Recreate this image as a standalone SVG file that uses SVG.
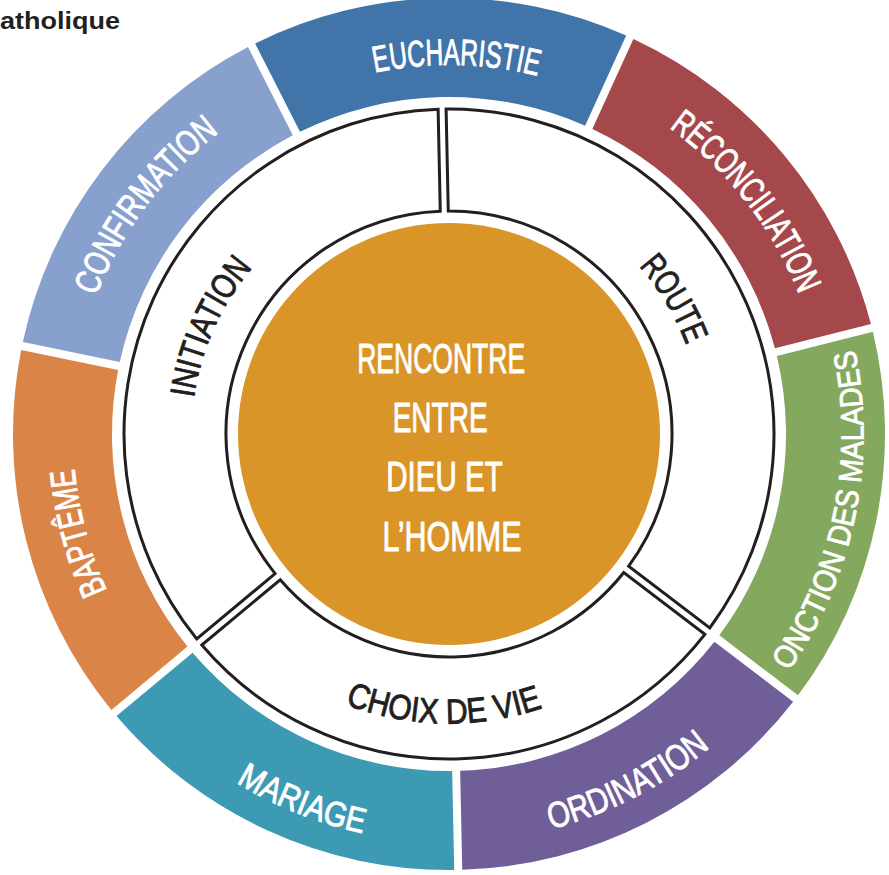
<svg xmlns="http://www.w3.org/2000/svg" width="889" height="875" viewBox="0 0 889 875">
<style>
.lbl{font-family:"Liberation Sans",Arial,sans-serif;fill:#ffffff;stroke:#ffffff;stroke-width:0.9;stroke-linejoin:round;text-anchor:middle;}
.dark{font-family:"Liberation Sans",Arial,sans-serif;fill:#231f20;stroke:#231f20;stroke-width:0.9;stroke-linejoin:round;text-anchor:middle;}
.ring{fill:#ffffff;stroke:#231f20;stroke-width:3;stroke-linejoin:miter;}
.title{font-family:"Liberation Sans",Arial,sans-serif;font-weight:bold;fill:#231f20;}
</style>
<defs>
<path id="seg" d="M 263.44 39.45 A 436 436 0 0 1 634.56 39.45 L 591.60 128.66 A 337 337 0 0 0 306.40 128.66 Z"/>
<path id="ringA" d="M 157.94 289.40 A 325 325 0 0 1 740.06 289.40 L 648.15 333.65 A 223 223 0 0 0 249.85 333.65 Z"/>
<path id="ringB" d="M 197.41 228.26 A 325 325 0 0 1 700.59 228.26 L 620.83 291.86 A 223 223 0 0 0 277.17 291.86 Z"/>
<path id="tpEuch" d="M 129.44 249.5 A 369 369 0 0 1 768.56 249.5"/>
<path id="tpRec" d="M 122.51 245.5 A 377 377 0 0 1 775.49 245.5"/>
<path id="tpConf" d="M 120.78 244.5 A 379 379 0 0 1 777.22 244.5"/>
<path id="tpBapt" d="M 123.37 246 A 376 376 0 0 1 774.63 246"/>
<path id="tpInit" d="M 226 305.25 A 257.5 257.5 0 0 1 672 305.25"/>
<path id="tpRoute" d="M 229.46 307.25 A 253.5 253.5 0 0 1 668.54 307.25"/>
<path id="tpOnc" d="M 90.03 641.25 A 414.5 414.5 0 0 0 807.97 641.25"/>
<path id="tpOrd" d="M 95.66 638 A 408 408 0 0 0 802.34 638"/>
<path id="tpMar" d="M 95.23 638.25 A 408.5 408.5 0 0 0 802.77 638.25"/>
<path id="tpChoix" d="M 198.28 578.75 A 289.5 289.5 0 0 0 699.72 578.75"/>
</defs>

<text class="title" x="0" y="29" font-size="24" textLength="120" lengthAdjust="spacingAndGlyphs">atholique</text>

<g id="centre">
<circle cx="449" cy="434" r="211" fill="#da9528"/>
<text class="lbl" font-size="42">
<tspan x="447" y="373" textLength="168" lengthAdjust="spacingAndGlyphs">RENCONTRE</tspan>
<tspan x="446" y="432" textLength="95" lengthAdjust="spacingAndGlyphs">ENTRE</tspan>
<tspan x="450" y="491" textLength="116" lengthAdjust="spacingAndGlyphs">DIEU ET</tspan>
<tspan x="452" y="551" textLength="139" lengthAdjust="spacingAndGlyphs">L’HOMME</tspan>
</text>
</g>

<g id="initiation">
<use href="#ringA" class="ring" transform="rotate(-65.5 449 434)"/>
<text class="dark" font-size="35" transform="rotate(-65.85 449 434)"><textPath href="#tpInit" startOffset="50%" textLength="145" lengthAdjust="spacingAndGlyphs">INITIATION</textPath></text>
</g>
<g id="route">
<use href="#ringA" class="ring" transform="rotate(63.07 449 434)"/>
<text class="dark" font-size="35" transform="rotate(59 449 434)"><textPath href="#tpRoute" startOffset="50%" textLength="93" lengthAdjust="spacingAndGlyphs">ROUTE</textPath></text>
</g>
<g id="choix-de-vie">
<use href="#ringB" class="ring" transform="rotate(178.79 449 434)"/>
<text class="dark" font-size="35" transform="rotate(1.05 449 434)"><textPath href="#tpChoix" startOffset="50%" textLength="202" lengthAdjust="spacingAndGlyphs">CHOIX DE VIE</textPath></text>
</g>

<g id="eucharistie">
<use href="#seg" fill="#4174a8" transform="rotate(-1.21 449 434)"/>
<text class="lbl" font-size="37" transform="rotate(1.15 449 434)"><textPath href="#tpEuch" startOffset="50%" textLength="164" lengthAdjust="spacingAndGlyphs">EUCHARISTIE</textPath></text>
</g>
<g id="reconciliation">
<use href="#seg" fill="#a5484b" transform="rotate(50.21 449 434)"/>
<text class="lbl" font-size="36" transform="rotate(52 449 434)"><textPath href="#tpRec" startOffset="50%" textLength="214" lengthAdjust="spacingAndGlyphs">RÉCONCILIATION</textPath></text>
</g>
<g id="onction-des-malades">
<use href="#seg" fill="#84a85e" transform="rotate(101.64 449 434)"/>
<text class="lbl" font-size="32" transform="rotate(-78.4 449 434)"><textPath href="#tpOnc" startOffset="50%" textLength="338" lengthAdjust="spacingAndGlyphs">ONCTION DES MALADES</textPath></text>
</g>
<g id="ordination">
<use href="#seg" fill="#705e98" transform="rotate(153.07 449 434)"/>
<text class="lbl" font-size="36" transform="rotate(-27.15 449 434)"><textPath href="#tpOrd" startOffset="50%" textLength="180" lengthAdjust="spacingAndGlyphs">ORDINATION</textPath></text>
</g>
<g id="mariage">
<use href="#seg" fill="#3d9ab3" transform="rotate(204.5 449 434)"/>
<text class="lbl" font-size="35" transform="rotate(21.8 449 434)"><textPath href="#tpMar" startOffset="50%" textLength="137" lengthAdjust="spacingAndGlyphs">MARIAGE</textPath></text>
</g>
<g id="bapteme">
<use href="#seg" fill="#da8448" transform="rotate(255.93 449 434)"/>
<text class="lbl" font-size="36" transform="rotate(-104.95 449 434)"><textPath href="#tpBapt" startOffset="50%" textLength="127" lengthAdjust="spacingAndGlyphs">BAPTÊME</textPath></text>
</g>
<g id="confirmation">
<use href="#seg" fill="#87a0cd" transform="rotate(307.36 449 434)"/>
<text class="lbl" font-size="36" transform="rotate(-53 449 434)"><textPath href="#tpConf" startOffset="50%" textLength="207" lengthAdjust="spacingAndGlyphs">CONFIRMATION</textPath></text>
</g>
</svg>
